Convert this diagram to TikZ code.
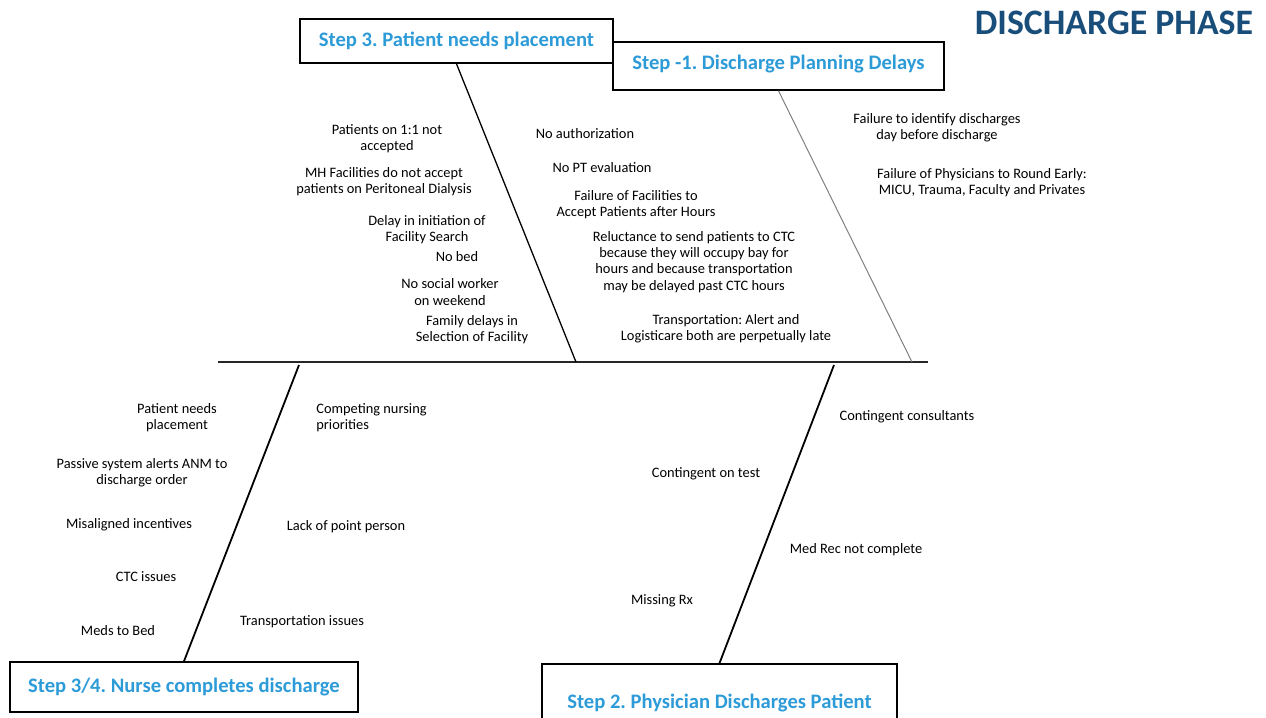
\documentclass[tikz,border=0pt]{standalone}
\usepackage{fontspec}
\setmainfont{Carlito}
\frenchspacing
\definecolor{stepblue}{HTML}{2D9BD8}
\definecolor{phaseblue}{HTML}{1A4E7A}

\begin{document}
\begin{tikzpicture}[x=0.5pt,y=-0.5pt]
	\tikzstyle{cause}=[align=center,inner sep=0pt,font=\fontsize{7.2}{8.15}\selectfont]
	\tikzstyle{stepbox}=[draw,line width=0.8pt,inner sep=0pt,text=stepblue,font=\fontsize{10.3}{12}\selectfont\bfseries]
	\tikzstyle{bone}=[line width=0.9pt]
	\useasboundingbox (0,0) rectangle (1266,718);
	\clip (0,0) rectangle (1266,718);
		\node[text=phaseblue,font=\fontsize{17.9}{20}\selectfont\bfseries] (title) at (1114,23) {DISCHARGE PHASE};
		\node[stepbox,fill=white,minimum width=156.5pt,minimum height=22pt] (s3) at (456.5,41) {Step 3. Patient needs placement};
		\node[stepbox,fill=white,minimum width=165.5pt,minimum height=24pt,text depth=3.5pt] (s1) at (778.5,66) {Step -1. Discharge Planning Delays};
		\node[stepbox,minimum width=174pt,minimum height=25pt] (s34) at (184,687) {Step 3/4. Nurse completes discharge};
		\node[stepbox,minimum width=177.5pt,minimum height=39pt] (s2) at (719.5,703) {Step 2. Physician Discharges Patient};
		\coordinate (tail) at (218,362);
		\coordinate (head) at (928,362);
		\coordinate (j3) at (576,362);
		\coordinate (j1) at (912,362);
		\coordinate (j34) at (299,365);
		\coordinate (j2) at (834,365);
			\draw[line width=1pt,black!85] (tail) -- (head);
			\draw[line width=0.65pt] (s3.south) -- (j3);
			\draw[line width=0.5pt,gray] (s1.south) -- (j1);
			\draw[bone] (s34.north) -- (j34);
			\draw[bone] (s2.north) -- (j2);
		\node[cause] (c3a) at (387,139) {Patients on 1:1 not\\accepted};
		\node[cause] (c3b) at (384,182) {MH Facilities do not accept\\patients on Peritoneal Dialysis};
		\node[cause] (c3c) at (427,230) {Delay in initiation of\\Facility Search};
		\node[cause] (c3d) at (457,257) {No bed};
		\node[cause] (c3e) at (450,292) {No social worker\\on weekend};
		\node[cause] (c3f) at (472,330) {Family delays in\\Selection of Facility};
		\node[cause] (c3g) at (585,134) {No authorization};
		\node[cause] (c3h) at (602,168) {No PT evaluation};
		\node[cause] (c3i) at (636,205) {Failure of Facilities to\\Accept Patients after Hours};
		\node[cause] (c3j) at (694,262) {Reluctance to send patients to CTC\\because they will occupy bay for\\hours and because transportation\\may be delayed past CTC hours};
		\node[cause] (c3k) at (726,329) {Transportation: Alert and\\Logisticare both are perpetually late};
		\node[cause] (c1a) at (937,128) {Failure to identify discharges\\day before discharge};
		\node[cause] (c1b) at (982,183) {Failure of Physicians to Round Early:\\MICU, Trauma, Faculty and Privates};
		\node[cause] (c34a) at (177,418) {Patient needs\\placement};
		\node[cause] (c34b) at (142,473) {Passive system alerts ANM to\\discharge order};
		\node[cause] (c34c) at (129,525) {Misaligned incentives};
		\node[cause] (c34d) at (146,577) {CTC issues};
		\node[cause] (c34e) at (118,631) {Meds to Bed};
		\node[cause,align=left,anchor=west] (c34f) at (316,418) {Competing nursing\\priorities};
		\node[cause] (c34g) at (346,527) {Lack of point person};
		\node[cause] (c34h) at (302,622) {Transportation issues};
		\node[cause] (c2a) at (907,417) {Contingent consultants};
		\node[cause] (c2b) at (706,474) {Contingent on test};
		\node[cause] (c2c) at (856,550) {Med Rec not complete};
		\node[cause] (c2d) at (662,601) {Missing Rx};
\end{tikzpicture}
\end{document}
